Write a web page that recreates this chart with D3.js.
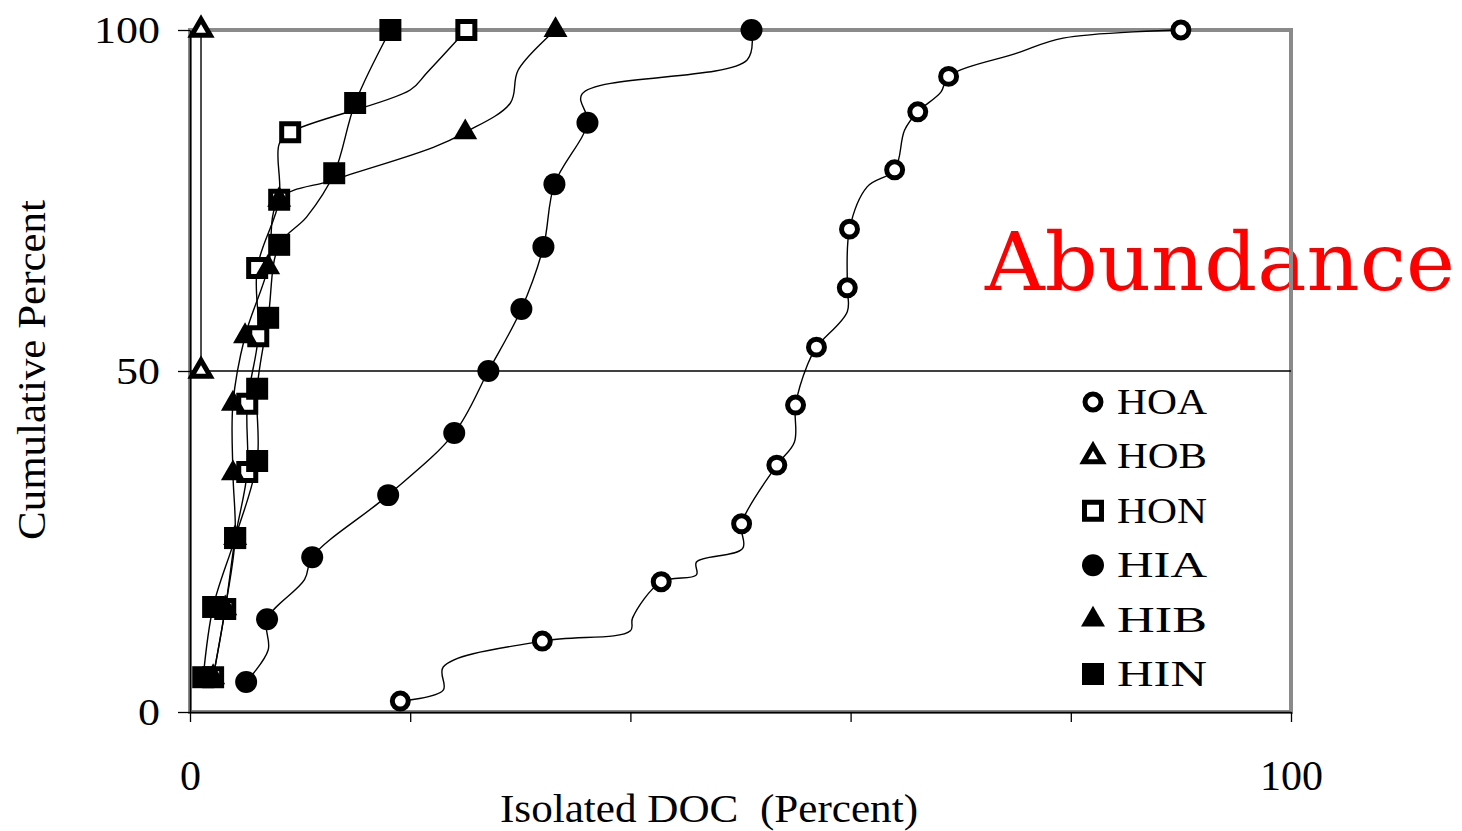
<!DOCTYPE html>
<html>
<head>
<meta charset="utf-8">
<script src="https://cdn.jsdelivr.net/npm/d3@7"></script>
<style>
body { margin: 0; background: #fff; }
svg { display: block; }
</style>
</head>
<body>
<svg id="chart" width="1462" height="831"></svg>
<script>
var svg = d3.select('#chart')

var series = ["HOA", "HOB", "HON", "HIA", "HIB", "HIN"]

// marker points: isolated DOC (x, percent) and cumulative percent (y)
var hoaX = [19.1, 32.0, 42.8, 50.1, 53.3, 55.0, 56.9, 59.7, 59.9, 64.0, 66.1, 68.9, 90.0]
var hoaY = [1.6, 10.4, 19.1, 27.6, 36.2, 45.0, 53.5, 62.2, 70.8, 79.5, 88.0, 93.2, 100]
var hobX = [1.0, 1.0]
var hobY = [50, 100]
var honX = [2.1, 3.2, 4.1, 5.2, 5.2, 6.2, 6.1, 8.1, 9.1, 25.1]
var honY = [5.1, 15.1, 25.5, 35.2, 45.2, 55.1, 65.1, 75.1, 85.0, 100]
var hiaX = [5.1, 7.0, 11.1, 18.0, 24.0, 27.1, 30.1, 32.1, 33.1, 36.1, 51.0]
var hiaY = [4.4, 13.6, 22.7, 31.8, 40.9, 50.0, 59.1, 68.2, 77.4, 86.4, 100]
var hibX = [2.1, 3.2, 4.1, 3.9, 3.9, 5.0, 7.1, 8.1, 25.0, 33.2]
var hibY = [5.1, 15.2, 25.5, 35.0, 45.2, 55.1, 65.2, 75.1, 85.0, 100]
var hinX = [1.2, 2.1, 4.1, 6.1, 6.1, 7.1, 8.1, 13.1, 15.0, 18.2]
var hinY = [5.1, 15.4, 25.5, 36.8, 47.4, 57.8, 68.5, 79.0, 89.3, 100]

// extra bends of the smoothed lines, no marker drawn there
var hoaBendX = [23.0, 23.0, 40.0, 40.2, 46.0, 46.0, 50.2, 54.9, 56.1, 59.7, 61.5, 64.9, 68.2, 75.1, 79.3]
var hoaBendY = [3.2, 6.6, 11.9, 13.8, 20.1, 22.0, 24.0, 39.6, 51.0, 58.7, 77.0, 85.3, 90.9, 96.6, 98.8]
var hobBendX = []
var hobBendY = []
var honBendX = [8.1, 20.0, 21.5]
var honBendY = [83.3, 91.2, 93.7]
var hiaBendX = [7.1, 10.4, 35.6, 50.6]
var hiaBendY = [9.1, 19.4, 90.6, 95.6]
var hibBendX = [13.0, 22.1, 29.1, 29.8]
var hibBendY = [78.0, 82.8, 89.3, 94.1]
var hinBendX = [10.6]
var hinBendY = [72.6]

var xTicks = [0, 20, 40, 60, 80, 100]
var xLabels = [0, 100]
var yTicks = [0, 50, 100]
var refLine = 50

var markX = { HOA: hoaX, HOB: hobX, HON: honX, HIA: hiaX, HIB: hibX, HIN: hinX }
var markY = { HOA: hoaY, HOB: hobY, HON: honY, HIA: hiaY, HIB: hibY, HIN: hinY }
var bendX = { HOA: hoaBendX, HOB: hobBendX, HON: honBendX, HIA: hiaBendX, HIB: hibBendX, HIN: hinBendX }
var bendY = { HOA: hoaBendY, HOB: hobBendY, HON: honBendY, HIA: hiaBendY, HIB: hibBendY, HIN: hinBendY }

var shapes = {
    HOA: { type: d3.symbolCircle, open: true, size: 200 },
    HOB: { type: d3.symbolTriangle, open: true, size: 150 },
    HON: { type: d3.symbolSquare, open: true, size: 289 },
    HIA: { type: d3.symbolCircle, open: false, size: 380 },
    HIB: { type: d3.symbolTriangle, open: false, size: 250 },
    HIN: { type: d3.symbolSquare, open: false, size: 484 }
}

var plotL = 190, plotR = 1291, plotT = 30, plotB = 712
var x = d3.scaleLinear().domain([0, 100]).range([plotL, plotR])
var y = d3.scaleLinear().domain([0, 100]).range([plotB, plotT])

var serif = "'Liberation Serif', 'Times New Roman', serif"

// big red annotation sits under the frame
svg.append("text")
    .attr("x", 985)
    .attr("y", 290)
    .attr("font-family", "'DejaVu Serif', serif")
    .attr("font-size", 80)
    .attr("fill", "#ff0000")
    .attr("textLength", 470)
    .attr("lengthAdjust", "spacingAndGlyphs")
    .text("Abundance")

// plot frame
svg.append("rect")
    .attr("x", plotL)
    .attr("y", plotT)
    .attr("width", plotR - plotL)
    .attr("height", plotB - plotT)
    .attr("fill", "none")
    .attr("stroke", "#8a8a8a")
    .attr("stroke-width", 4)

// 50 percent line
svg.append("line")
    .attr("x1", x(0)).attr("x2", x(100))
    .attr("y1", y(refLine)).attr("y2", y(refLine))
    .attr("stroke", "#000")
    .attr("stroke-width", 1.3)

// axes
var yAxis = svg.append("g")
    .attr("transform", "translate(" + plotL + ",0)")
    .call(d3.axisLeft(y).tickValues(yTicks).tickSize(12).tickSizeOuter(0).tickPadding(18))
yAxis.select(".domain").attr("stroke", "#000").attr("stroke-width", 1.5)
yAxis.selectAll(".tick line").attr("stroke", "#000").attr("stroke-width", 1.3)
yAxis.selectAll(".tick text")
    .attr("font-family", serif)
    .attr("font-size", 38)
    .attr("fill", "#000")
    .attr("textLength", function (d) { return String(d).length * 22 })
    .attr("lengthAdjust", "spacingAndGlyphs")

var xAxis = svg.append("g")
    .attr("transform", "translate(0," + plotB + ")")
    .call(d3.axisBottom(x).tickValues(xTicks).tickSize(10).tickSizeOuter(0).tickPadding(38)
        .tickFormat(function (d) { return xLabels.indexOf(d) >= 0 ? d : "" }))
xAxis.select(".domain").attr("stroke", "#000").attr("stroke-width", 1.5)
xAxis.selectAll(".tick line").attr("stroke", "#000").attr("stroke-width", 1.3)
xAxis.selectAll(".tick text")
    .attr("font-family", serif)
    .attr("font-size", 42)
    .attr("fill", "#000")

// axis titles
svg.append("text")
    .attr("transform", "translate(45,370) rotate(-90)")
    .attr("text-anchor", "middle")
    .attr("font-family", serif)
    .attr("font-size", 40)
    .attr("textLength", 340)
    .attr("lengthAdjust", "spacingAndGlyphs")
    .text("Cumulative Percent")

svg.append("text")
    .attr("x", 709)
    .attr("y", 822)
    .attr("text-anchor", "middle")
    .attr("font-family", serif)
    .attr("font-size", 40)
    .attr("textLength", 418)
    .attr("lengthAdjust", "spacingAndGlyphs")
    .attr("xml:space", "preserve")
    .text("Isolated DOC  (Percent)")

// smoothed lines through markers and bends, ordered by cumulative percent
var line = d3.line()
    .x(function (d) { return x(d[0]) })
    .y(function (d) { return y(d[1]) })
    .curve(d3.curveCatmullRom.alpha(0.5))

series.forEach(function (s) {
    var pts = markX[s].map(function (v, i) { return [v, markY[s][i]] })
    bendX[s].forEach(function (v, i) { pts.push([v, bendY[s][i]]) })
    pts.sort(function (a, b) { return a[1] - b[1] })
    svg.append("path")
        .attr("d", line(pts))
        .attr("fill", "none")
        .attr("stroke", "#000")
        .attr("stroke-width", 1.4)
})

function drawMarker(g, s) {
    var sh = shapes[s]
    g.attr("d", d3.symbol().type(sh.type).size(sh.size))
        .attr("fill", sh.open ? "#fff" : "#000")
        .attr("stroke", "#000")
        .attr("stroke-width", sh.open ? 5 : 0)
}

series.forEach(function (s) {
    svg.append("g").selectAll("path")
        .data(markX[s].map(function (v, i) { return [v, markY[s][i]] }))
        .enter()
        .append("path")
        .attr("transform", function (d) { return "translate(" + x(d[0]) + "," + y(d[1]) + ")" })
        .call(drawMarker, s)
})

// legend
var legendY = d3.scalePoint().domain(series).range([402, 674])
var legend = svg.append("g")
legend.selectAll("path")
    .data(series)
    .enter()
    .append("path")
    .attr("transform", function (d) { return "translate(1093," + legendY(d) + ")" })
    .each(function (d) { drawMarker(d3.select(this), d) })
legend.selectAll("text")
    .data(series)
    .enter()
    .append("text")
    .attr("x", 1117)
    .attr("y", function (d) { return legendY(d) + 12 })
    .attr("font-family", serif)
    .attr("font-size", 35)
    .attr("textLength", 90)
    .attr("lengthAdjust", "spacingAndGlyphs")
    .text(function (d) { return d })
</script>
</body>
</html>
